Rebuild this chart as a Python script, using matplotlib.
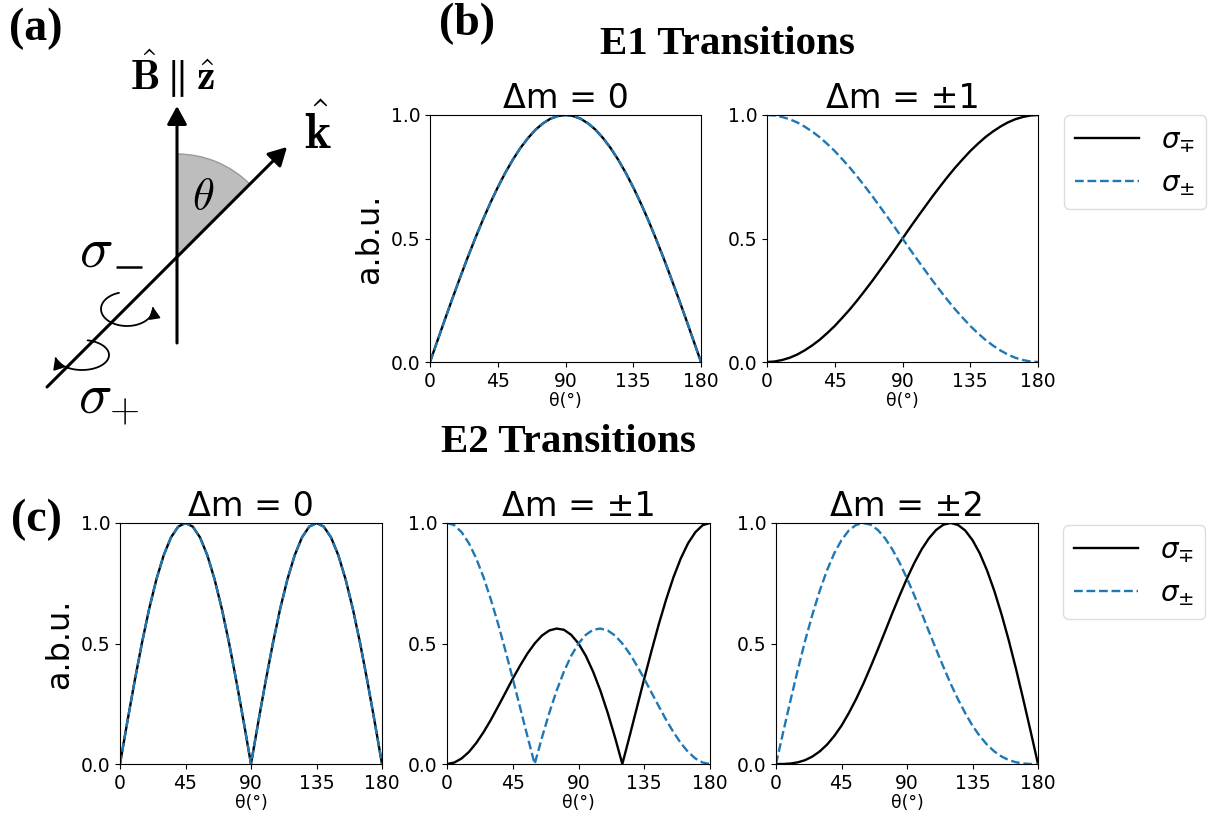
import matplotlib
matplotlib.use("Agg")
import matplotlib.pyplot as plt
import numpy as np
from matplotlib.patches import Wedge, FancyArrowPatch
from matplotlib.path import Path

W, H = 1215, 816

THETA = [0, 5, 10, 15, 20, 25, 30, 35, 40, 45, 50, 55, 60, 65, 70, 75, 80, 85, 90,
         95, 100, 105, 110, 115, 120, 125, 130, 135, 140, 145, 150, 155, 160, 165,
         170, 175, 180]
XTICKS = [0, 45, 90, 135, 180]
YTICKS = [0.0, 0.5, 1.0]

# E1, dm = 0 (both polarisations on top of each other)
E1_M0 = [0.000, 0.087, 0.174, 0.259, 0.342, 0.423, 0.500, 0.574, 0.643, 0.707,
         0.766, 0.819, 0.866, 0.906, 0.940, 0.966, 0.985, 0.996, 1.000, 0.996,
         0.985, 0.966, 0.940, 0.906, 0.866, 0.819, 0.766, 0.707, 0.643, 0.574,
         0.500, 0.423, 0.342, 0.259, 0.174, 0.087, 0.000]
# E1, dm = +-1
E1_M1_MP = [0.000, 0.002, 0.008, 0.017, 0.030, 0.047, 0.067, 0.090, 0.117, 0.146,
            0.179, 0.213, 0.250, 0.289, 0.329, 0.371, 0.413, 0.456, 0.500, 0.544,
            0.587, 0.629, 0.671, 0.711, 0.750, 0.787, 0.821, 0.854, 0.883, 0.910,
            0.933, 0.953, 0.970, 0.983, 0.992, 0.998, 1.000]
E1_M1_PM = [1.000, 0.998, 0.992, 0.983, 0.970, 0.953, 0.933, 0.910, 0.883, 0.854,
            0.821, 0.787, 0.750, 0.711, 0.671, 0.629, 0.587, 0.544, 0.500, 0.456,
            0.413, 0.371, 0.329, 0.289, 0.250, 0.213, 0.179, 0.146, 0.117, 0.090,
            0.067, 0.047, 0.030, 0.017, 0.008, 0.002, 0.000]
# E2, dm = 0
E2_M0 = [0.000, 0.174, 0.342, 0.500, 0.643, 0.766, 0.866, 0.940, 0.985, 1.000,
         0.985, 0.940, 0.866, 0.766, 0.643, 0.500, 0.342, 0.174, 0.000, 0.174,
         0.342, 0.500, 0.643, 0.766, 0.866, 0.940, 0.985, 1.000, 0.985, 0.940,
         0.866, 0.766, 0.643, 0.500, 0.342, 0.174, 0.000]
# E2, dm = +-1
E2_M1_MP = [0.000, 0.006, 0.023, 0.050, 0.087, 0.132, 0.183, 0.239, 0.296, 0.354,
            0.408, 0.458, 0.500, 0.533, 0.554, 0.562, 0.557, 0.536, 0.500, 0.449,
            0.383, 0.304, 0.212, 0.110, 0.000, 0.116, 0.235, 0.354, 0.470, 0.581,
            0.683, 0.775, 0.853, 0.916, 0.962, 0.991, 1.000]
E2_M1_PM = [1.000, 0.991, 0.962, 0.916, 0.853, 0.775, 0.683, 0.581, 0.470, 0.354,
            0.235, 0.116, 0.000, 0.110, 0.212, 0.304, 0.383, 0.449, 0.500, 0.536,
            0.557, 0.562, 0.554, 0.533, 0.500, 0.458, 0.408, 0.354, 0.296, 0.239,
            0.183, 0.132, 0.087, 0.050, 0.023, 0.006, 0.000]
# E2, dm = +-2
E2_M2_MP = [0.000, 0.000, 0.002, 0.007, 0.016, 0.031, 0.052, 0.080, 0.116, 0.159,
            0.211, 0.269, 0.333, 0.403, 0.476, 0.551, 0.627, 0.700, 0.770, 0.834,
            0.890, 0.936, 0.971, 0.993, 1.000, 0.992, 0.969, 0.929, 0.874, 0.803,
            0.718, 0.620, 0.511, 0.392, 0.265, 0.134, 0.000]
E2_M2_PM = [0.000, 0.134, 0.265, 0.392, 0.511, 0.620, 0.718, 0.803, 0.874, 0.929,
            0.969, 0.992, 1.000, 0.993, 0.971, 0.936, 0.890, 0.834, 0.770, 0.700,
            0.627, 0.551, 0.476, 0.403, 0.333, 0.269, 0.211, 0.159, 0.116, 0.080,
            0.052, 0.031, 0.016, 0.007, 0.002, 0.000, 0.000]

LABEL_MP = r"$\sigma_{\mp}$"
LABEL_PM = r"$\sigma_{\pm}$"


def px_axes(fig, x0, y0, x1, y1):
    """Add axes from a pixel box (y measured from the top)."""
    return fig.add_axes([x0 / W, 1 - y1 / H, (x1 - x0) / W, (y1 - y0) / H])


def panel(ax, title, mp, pm, ylabel=False):
    ax.plot(THETA, mp, color="black", lw=1.7, label=LABEL_MP)
    ax.plot(THETA, pm, color="#1f77b4", lw=1.7, ls="--", label=LABEL_PM)
    ax.set_xlim(0, 180)
    ax.set_ylim(0, 1)
    ax.set_xticks(XTICKS)
    ax.set_yticks(YTICKS)
    ax.tick_params(labelsize=13.5)
    ax.set_xlabel("θ(°)", fontsize=12.5, labelpad=1)
    ax.set_title(title, fontsize=24, pad=5)
    if ylabel:
        ax.set_ylabel("a.b.u.", fontsize=23)


def add_legend(ax, x, y):
    leg = ax.legend(loc="upper left", bbox_to_anchor=(x / W, 1 - y / H),
                    bbox_transform=ax.figure.transFigure, borderaxespad=0,
                    fontsize=20, handlelength=2.3, framealpha=1)
    leg.get_frame().set_edgecolor("#dddddd")


def draw_diagram(ax):
    # field axis and k vector
    arrow = dict(arrowstyle="-|>,head_length=0.55,head_width=0.3", color="black",
                 lw=2.2, shrinkA=0, shrinkB=0, mutation_scale=20)
    ax.add_patch(Wedge((177, 257), 103, 270, 315, facecolor="#bdbdbd",
                       edgecolor="#9a9a9a", lw=1))
    ax.annotate("", xy=(177, 106), xytext=(177, 343), arrowprops=arrow)
    ax.annotate("", xy=(287, 147), xytext=(47, 387), arrowprops=arrow)

    # circular polarisation arrows
    small = "-|>,head_length=0.5,head_width=0.25"
    t = np.radians(np.linspace(108, 368, 60))
    verts = np.column_stack([127 + 26 * np.cos(t), 309 - 17 * np.sin(t)])
    ax.add_patch(FancyArrowPatch(path=Path(verts), arrowstyle=small,
                                 mutation_scale=14, lw=1.3, color="black"))
    t = np.radians(np.linspace(78, -172, 60))
    verts = np.column_stack([82 + 27 * np.cos(t), 355 - 15 * np.sin(t)])
    ax.add_patch(FancyArrowPatch(path=Path(verts), arrowstyle=small,
                                 mutation_scale=14, lw=1.3, color="black"))

    ax.text(172, 74, r"$\hat{\mathbf{B}}\parallel\hat{\mathbf{z}}$", fontsize=30,
            ha="center", va="center", math_fontfamily="cm")
    ax.text(318, 132, r"$\hat{\mathbf{k}}$", fontsize=36, ha="center",
            va="center", math_fontfamily="cm")
    ax.text(203, 196, r"$\theta$", fontsize=32, ha="center", va="center",
            math_fontfamily="cm")
    # sigma minus: glyph plus a drawn subscript bar
    ax.text(96, 252, r"$\sigma$", fontsize=40, ha="center", va="center",
            math_fontfamily="cm")
    ax.plot([116, 142], [267, 267], color="black", lw=1.8,
            solid_capstyle="butt")
    ax.text(109, 400, r"$\sigma_{+}$", fontsize=40, ha="center", va="center",
            math_fontfamily="cm")


fig = plt.figure(figsize=(W / 100, H / 100), dpi=100)

# full-figure layer in pixel units for the sketch and panel letters
bg = fig.add_axes([0, 0, 1, 1])
bg.set_xlim(0, W)
bg.set_ylim(H, 0)
bg.axis("off")
draw_diagram(bg)

head = dict(family="Liberation Serif", weight="bold", ha="center", va="center")
bg.text(36, 29, "(a)", fontsize=33, **head)
bg.text(467, 24, "(b)", fontsize=33, **head)
bg.text(36, 520, "(c)", fontsize=33, **head)
bg.text(727, 45, "E1 Transitions", fontsize=29.5, **head)
bg.text(568, 443, "E2 Transitions", fontsize=29.5, **head)

# E1 row
ax = px_axes(fig, 430, 115, 701, 362)
panel(ax, "Δm = 0", E1_M0, E1_M0, ylabel=True)
ax = px_axes(fig, 767, 115, 1038, 362)
panel(ax, "Δm = ±1", E1_M1_MP, E1_M1_PM)
add_legend(ax, 1064, 115)

# E2 row
ax = px_axes(fig, 120, 523, 382, 764)
panel(ax, "Δm = 0", E2_M0, E2_M0, ylabel=True)
ax = px_axes(fig, 447, 523, 710, 764)
panel(ax, "Δm = ±1", E2_M1_MP, E2_M1_PM)
ax = px_axes(fig, 776, 523, 1038, 764)
panel(ax, "Δm = ±2", E2_M2_MP, E2_M2_PM)
add_legend(ax, 1063, 525)

fig.savefig("out.png", dpi=100)
